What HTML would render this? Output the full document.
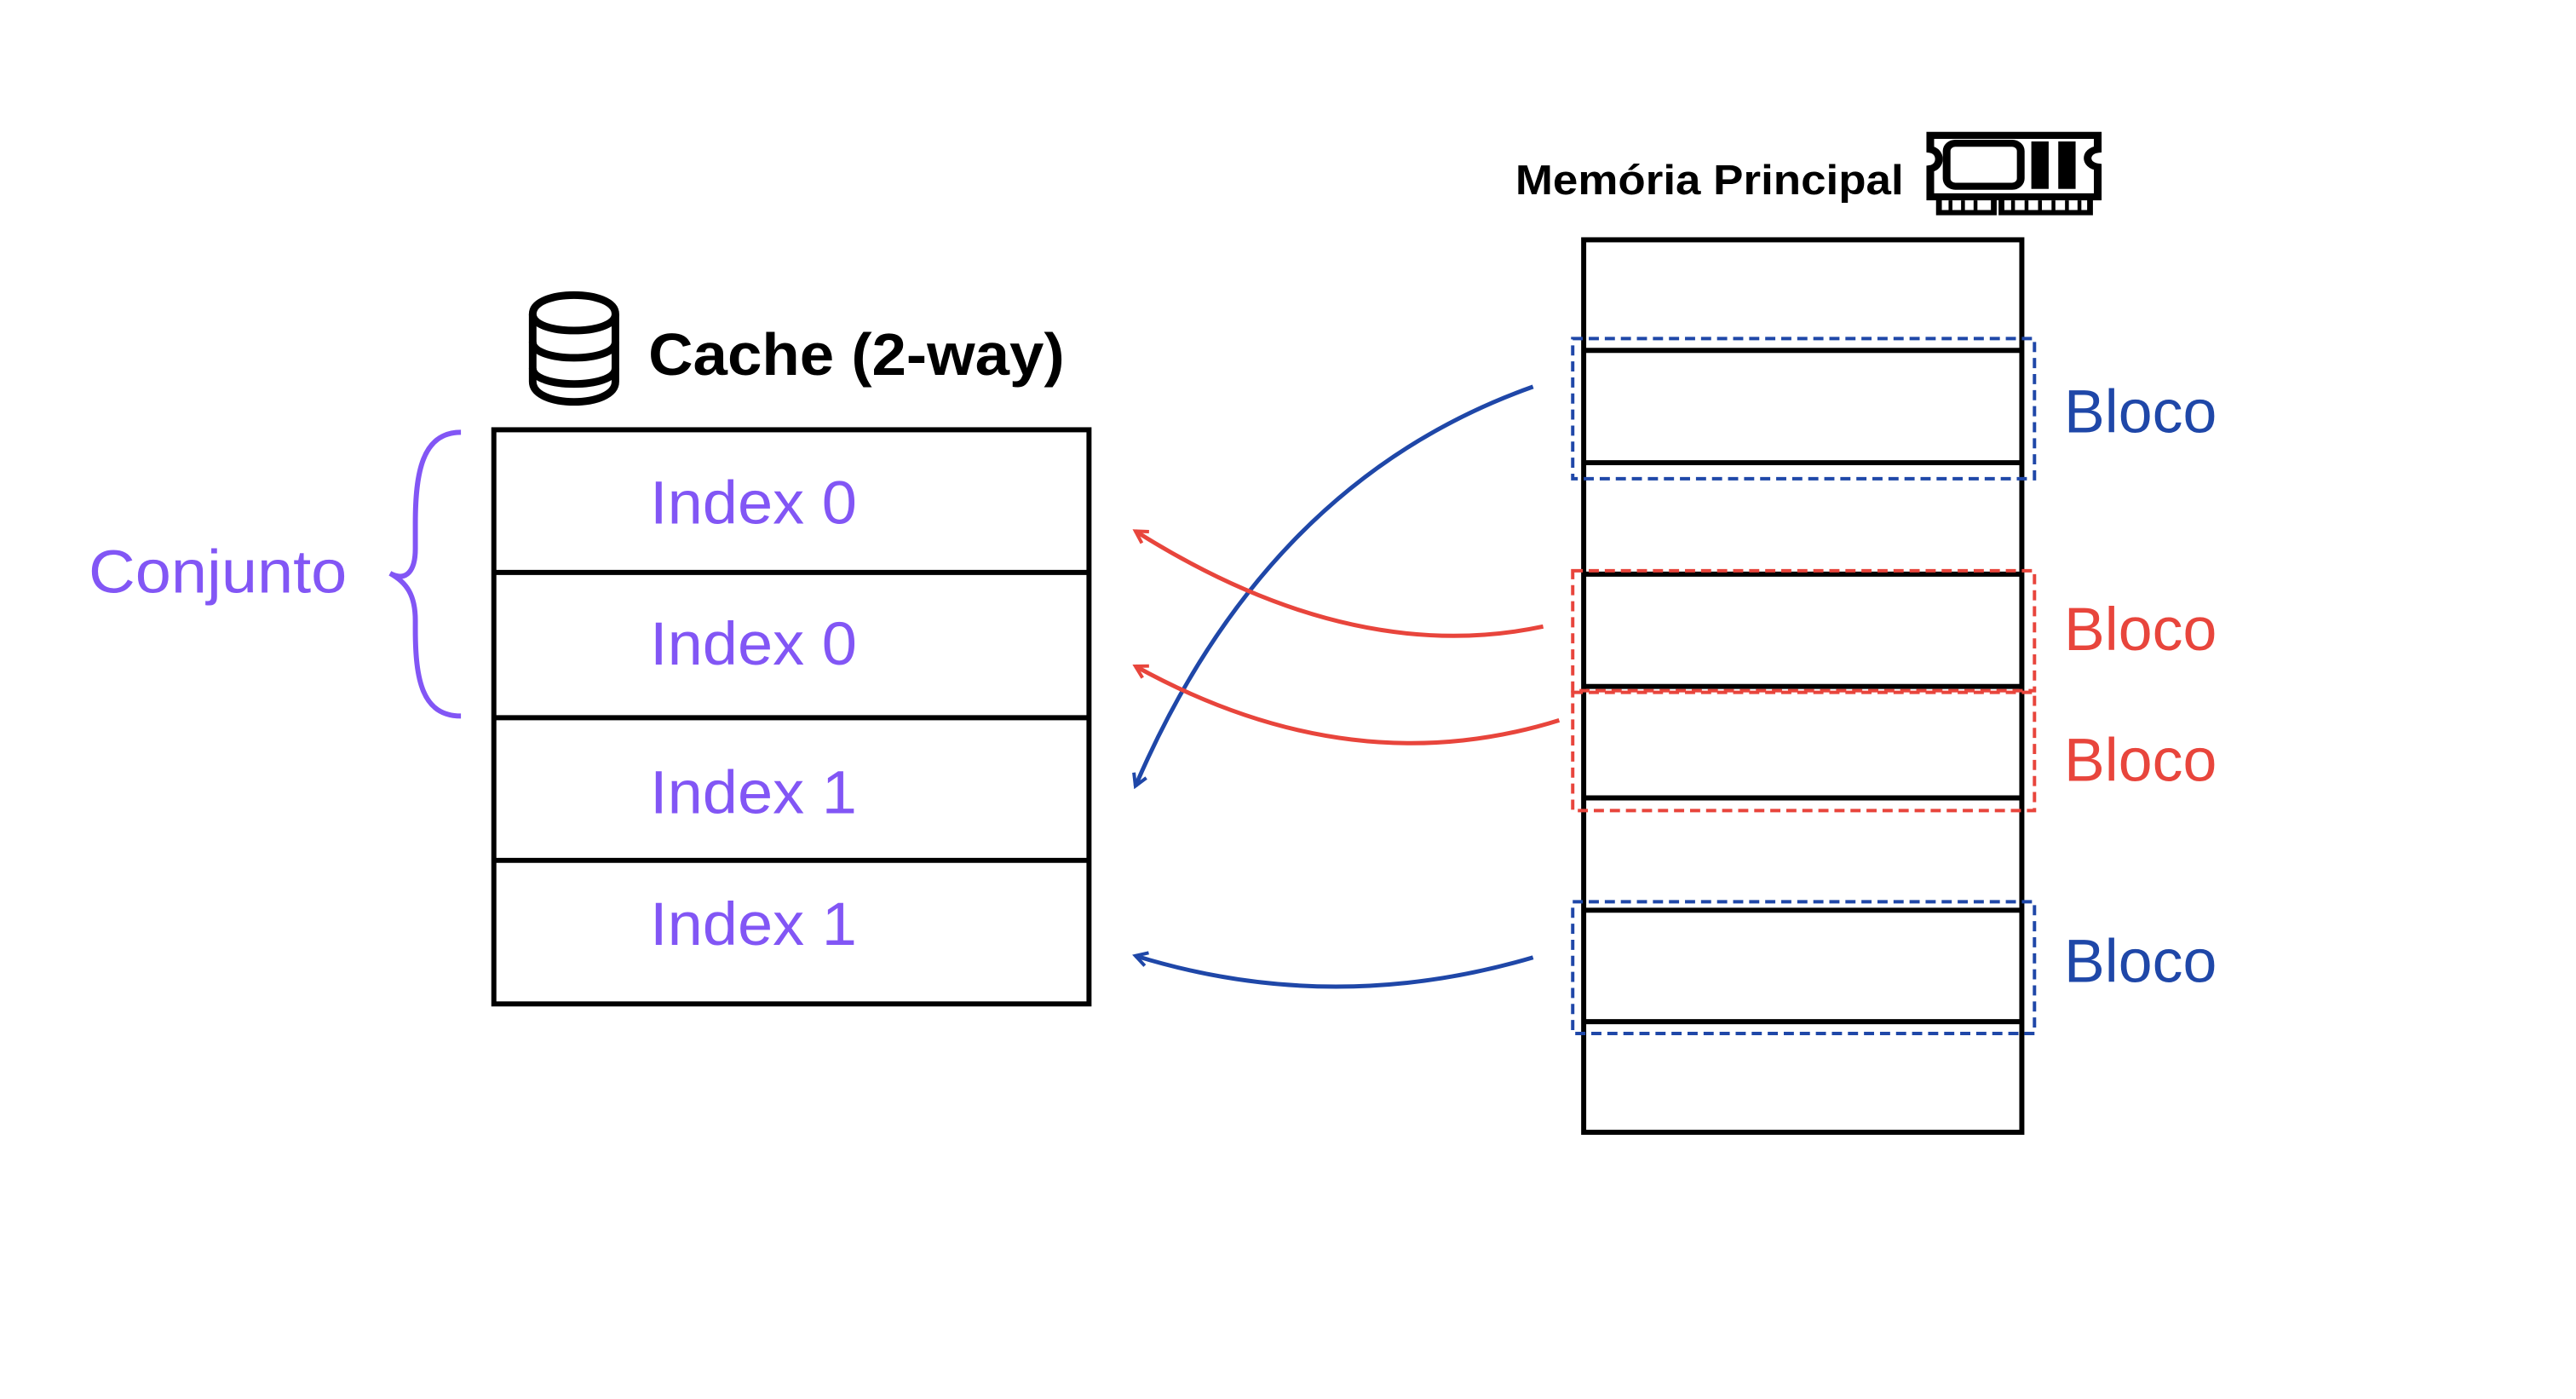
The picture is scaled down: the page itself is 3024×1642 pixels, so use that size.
<!DOCTYPE html>
<html><head><meta charset="utf-8"><style>
html,body{margin:0;padding:0;background:#fff;}
svg{display:block;}
text{font-family:"Liberation Sans",sans-serif;}
</style></head><body>
<svg width="3024" height="1642" viewBox="0 0 3024 1642">
<defs>
<marker id="ab" viewBox="0 0 20 20" refX="16" refY="10" markerWidth="20" markerHeight="20" markerUnits="userSpaceOnUse" orient="auto"><path d="M2,2 L16,10 L2,18" fill="none" stroke="#1f47a8" stroke-width="4"/></marker>
<marker id="ar" viewBox="0 0 20 20" refX="16" refY="10" markerWidth="20" markerHeight="20" markerUnits="userSpaceOnUse" orient="auto"><path d="M2,2 L16,10 L2,18" fill="none" stroke="#e8453c" stroke-width="4"/></marker>
</defs>
<g transform="scale(0.991)">

<g fill="none" stroke="#000" stroke-width="9">
<path d="M631,372 C631,342 729,342 729,372 L729,452 C729,484 631,484 631,452 Z"/>
<path d="M631,372 C631,398 729,398 729,372"/>
<path d="M631,405 C631,430 729,430 729,405"/>
<path d="M631,436 C631,461 729,461 729,436"/>
</g>
<text x="768" y="444" font-size="70" font-weight="bold" fill="#000" textLength="493" lengthAdjust="spacingAndGlyphs">Cache (2-way)</text>

<g fill="none" stroke="#000" stroke-width="6">
<rect x="585" y="509" width="705" height="680"/>
<line x1="585" y1="678" x2="1290" y2="678"/>
<line x1="585" y1="850" x2="1290" y2="850"/>
<line x1="585" y1="1019" x2="1290" y2="1019"/>
</g>
<g fill="#8256f5" font-size="72">
<text x="770" y="620" textLength="245" lengthAdjust="spacingAndGlyphs">Index 0</text>
<text x="770" y="787" textLength="245" lengthAdjust="spacingAndGlyphs">Index 0</text>
<text x="770" y="963" textLength="245" lengthAdjust="spacingAndGlyphs">Index 1</text>
<text x="770" y="1119" textLength="245" lengthAdjust="spacingAndGlyphs">Index 1</text>
</g>

<path d="M546,512 C500,512 492,560 492,620 L492,650 C492,675 482,690 462,679 C482,690 492,705 492,735 L492,745 C492,805 500,848 546,848" fill="none" stroke="#8256f5" stroke-width="6"/>
<text x="105" y="702" font-size="72" fill="#8256f5" textLength="306" lengthAdjust="spacingAndGlyphs">Conjunto</text>

<text x="1795" y="230" font-size="50" font-weight="bold" fill="#000" textLength="460" lengthAdjust="spacingAndGlyphs">Memória Principal</text>
<g fill="none" stroke="#000" stroke-width="8" transform="translate(2282,205) scale(1.14,1.04) translate(-2282,-205)">
<path d="M2286,162 L2460,162 L2460,178 C2446,180 2446,196 2460,198 L2460,232 L2286,232 L2286,200 C2298,198 2298,180 2286,178 Z"/>
<rect x="2303" y="171" width="77" height="49" rx="9"/>
<rect x="2392" y="170" width="16" height="52" fill="#000" stroke-width="2"/>
<rect x="2420" y="170" width="16" height="52" fill="#000" stroke-width="2"/>
<path d="M2295,232 L2295,250 L2352,250 L2352,232 M2360,232 L2360,250 L2452,250 L2452,232" stroke-width="6"/>
<path d="M2307,236 v12 M2320,236 v12 M2333,236 v12 M2372,236 v12 M2386,236 v12 M2400,236 v12 M2414,236 v12 M2428,236 v12 M2441,236 v12" stroke-width="4"/>
</g>

<g fill="none" stroke="#000" stroke-width="6">
<rect x="1876" y="284" width="519" height="1057"/>
<line x1="1876" y1="415" x2="2395" y2="415"/>
<line x1="1876" y1="548" x2="2395" y2="548"/>
<line x1="1876" y1="680" x2="2395" y2="680"/>
<line x1="1876" y1="813" x2="2395" y2="813"/>
<line x1="1876" y1="945" x2="2395" y2="945"/>
<line x1="1876" y1="1078" x2="2395" y2="1078"/>
<line x1="1876" y1="1210" x2="2395" y2="1210"/>
</g>

<g fill="none" stroke-width="4" stroke-dasharray="12,7">
<rect x="1863" y="401" width="547" height="166" stroke="#1f47a8"/>
<rect x="1863" y="676" width="547" height="142" stroke="#e8453c"/>
<rect x="1863" y="820" width="547" height="140" stroke="#e8453c"/>
<rect x="1863" y="1068" width="547" height="156" stroke="#1f47a8"/>
</g>
<g font-size="72">
<text x="2445" y="512" fill="#1f47a8" textLength="181" lengthAdjust="spacingAndGlyphs">Bloco</text>
<text x="2445" y="770" fill="#e8453c" textLength="181" lengthAdjust="spacingAndGlyphs">Bloco</text>
<text x="2445" y="925" fill="#e8453c" textLength="181" lengthAdjust="spacingAndGlyphs">Bloco</text>
<text x="2445" y="1163" fill="#1f47a8" textLength="181" lengthAdjust="spacingAndGlyphs">Bloco</text>
</g>

<g fill="none" stroke-width="5">
<path d="M1816,458 Q1500,570 1345,931" stroke="#1f47a8" marker-end="url(#ab)"/>
<path d="M1828,742 Q1600,790 1345,629" stroke="#e8453c" marker-end="url(#ar)"/>
<path d="M1847,853 Q1600,930 1345,789" stroke="#e8453c" marker-end="url(#ar)"/>
<path d="M1816,1134 Q1578,1204 1345,1132" stroke="#1f47a8" marker-end="url(#ab)"/>
</g>
</g>
</svg>
</body></html>
